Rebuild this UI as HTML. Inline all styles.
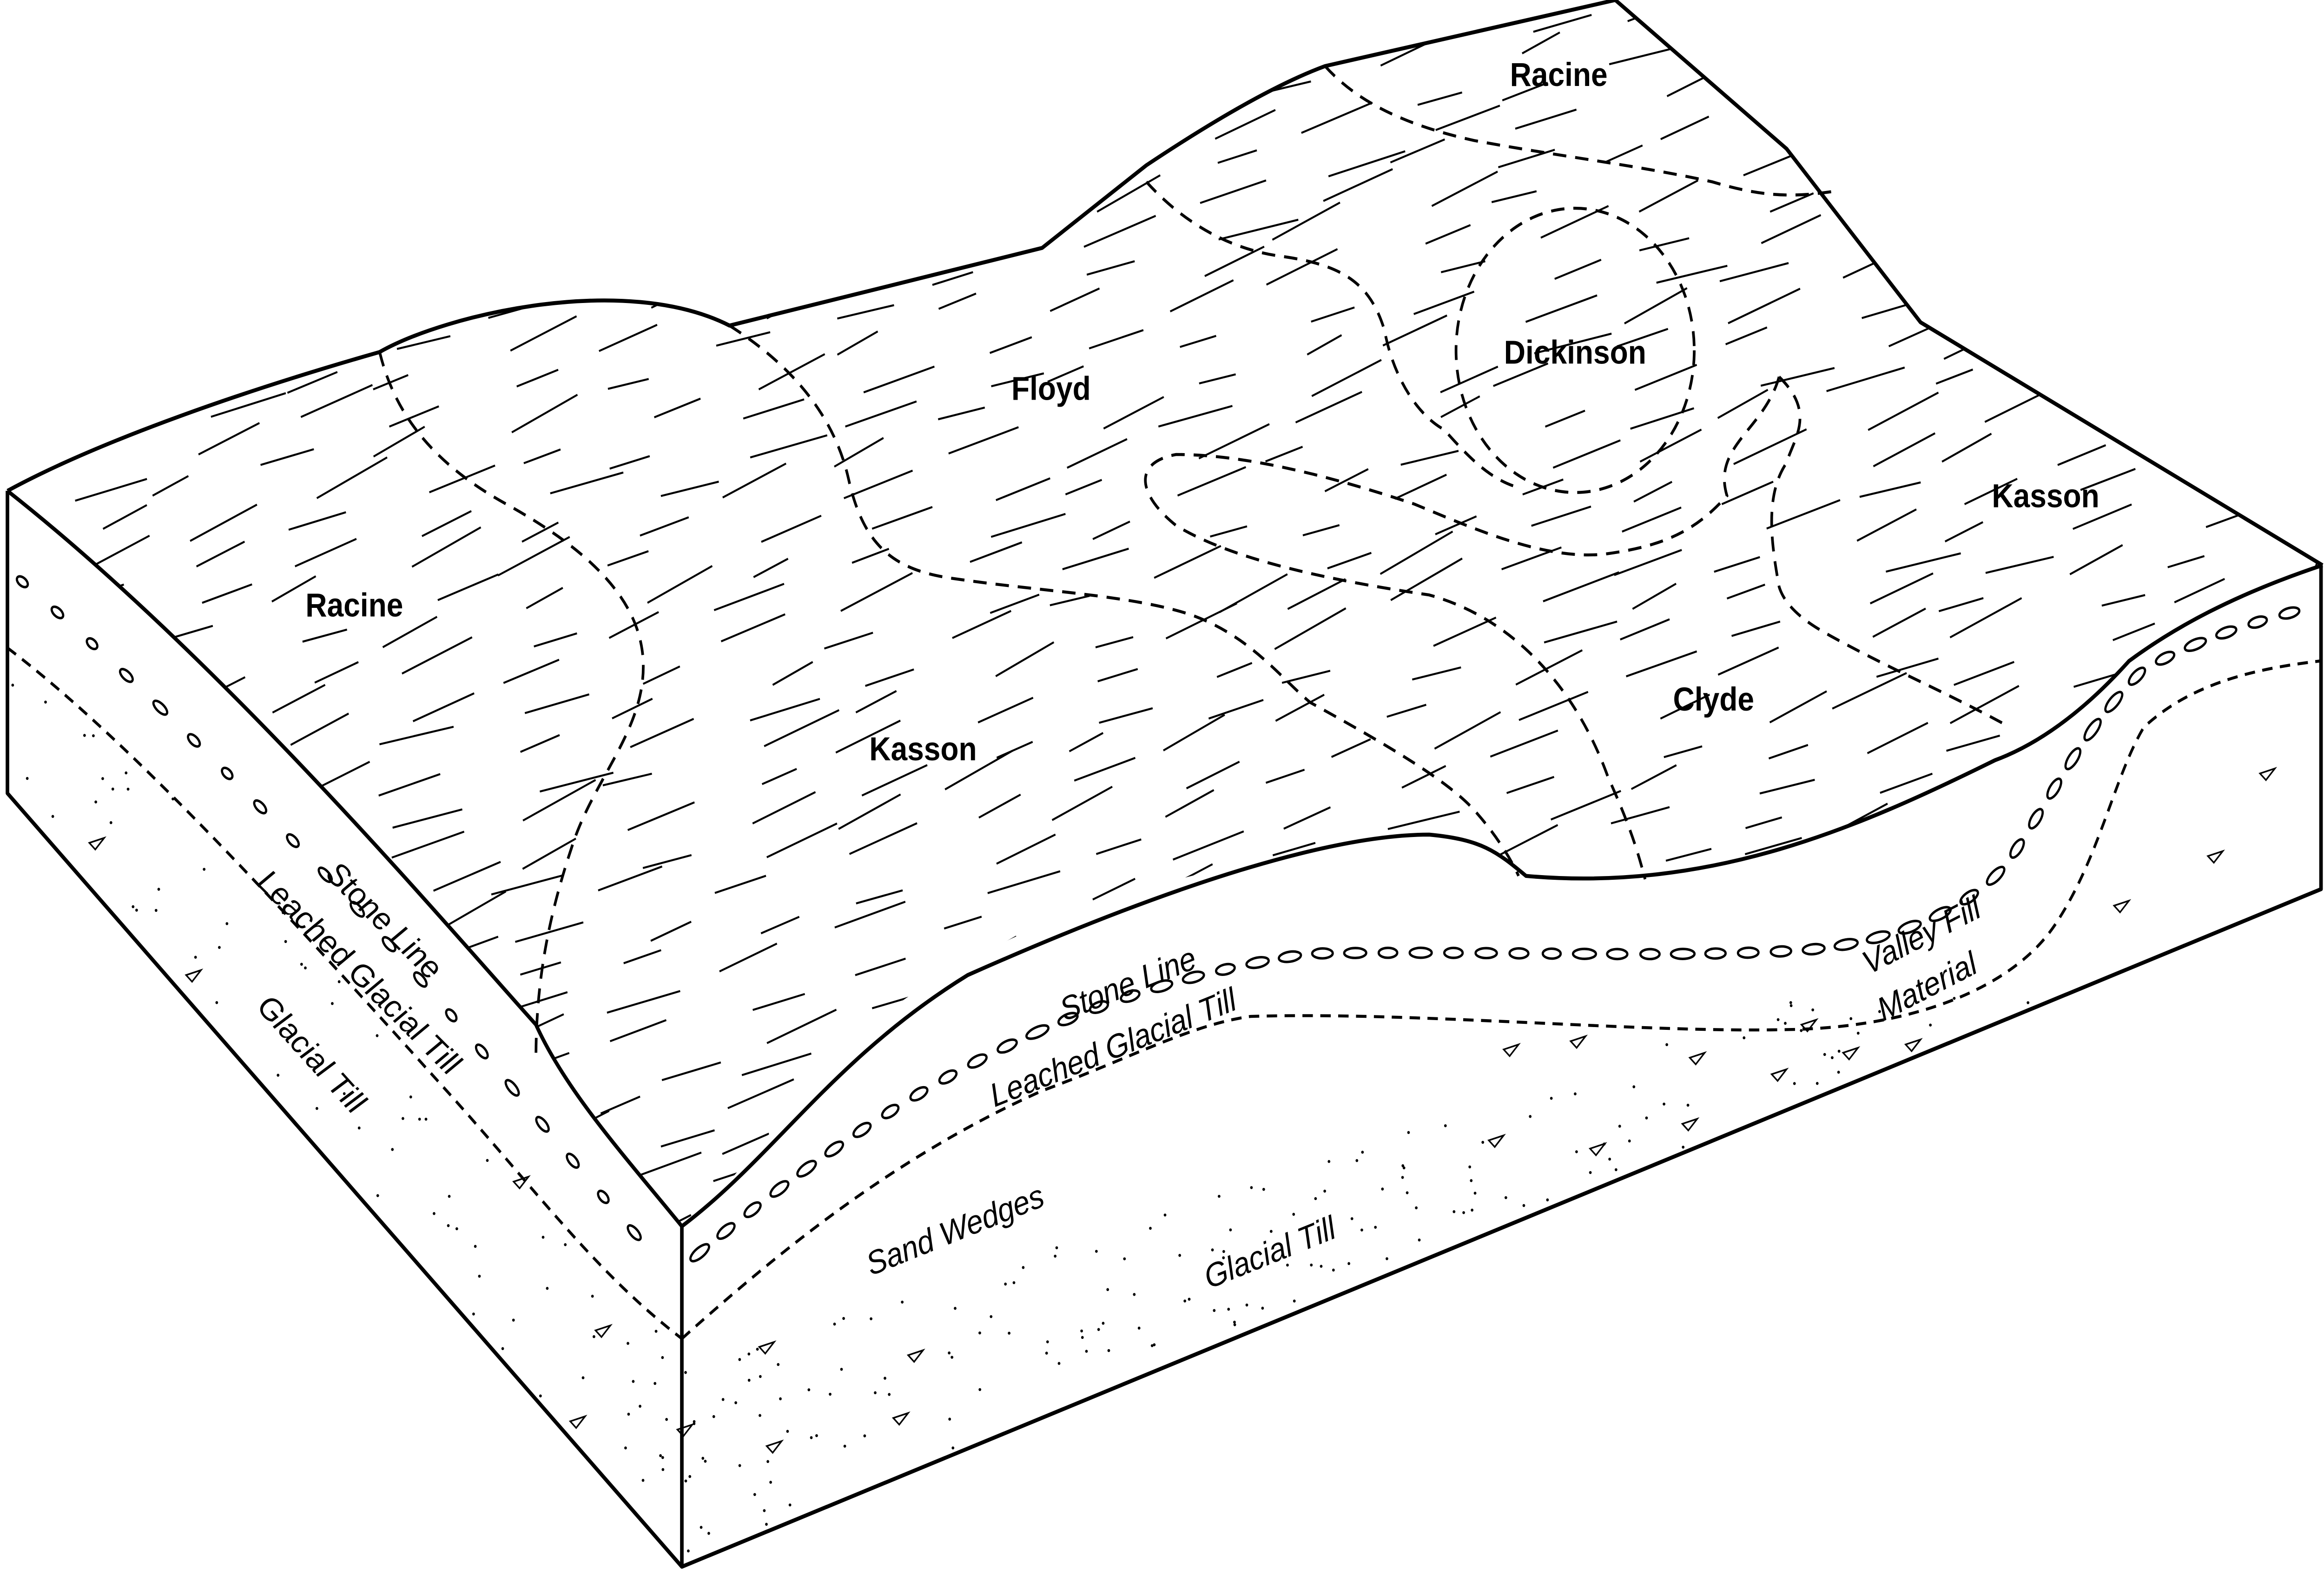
<!DOCTYPE html>
<html><head><meta charset="utf-8">
<meta name="viewport" content="width=5567">
<style>
html,body{margin:0;padding:0;background:#fff;width:100%;height:100%;overflow:hidden;}
svg{display:block;position:absolute;left:0;top:0;width:100vw;height:100vh;}
.lbl{font-family:"Liberation Sans",sans-serif;font-weight:bold;font-size:20px;fill:#000;}
.it{font-family:"Liberation Sans",sans-serif;font-style:italic;font-size:20px;fill:#000;}
</style></head>
<body>
<svg id="s" viewBox="0 0 1561 953" preserveAspectRatio="none" xmlns="http://www.w3.org/2000/svg">
<defs>
<clipPath id="top">
<path d="M5,297 C60,270 150,240 255,213 C300,190 420,165 490,197 L700,150 L770,100 C820,70 860,50 890,40 L1085,0 L1200,90 L1290,195 L1560,342 C1500,360 1460,380 1430,400 C1400,430 1370,450 1340,460 C1250,500 1150,540 1025,530 C1005,515 995,508 960,505 C800,520 650,560 560,640 C520,680 490,720 458,742 C420,700 380,660 360,620 C300,560 150,400 5,297 Z"/>
</clipPath>
</defs>
<g id="hatch" clip-path="url(#top)" stroke="#000" stroke-width="1.2" fill="none"></g>
<g id="dots" fill="#000"></g>
<g fill="none" stroke="#000" stroke-width="2.4" stroke-linejoin="round">
<path d="M5,297 C60,270 150,240 255,213 C300,190 420,165 490,197 L700,150 L770,100 C820,70 860,50 890,40 L1085,0 L1200,90 L1290,195 L1560,342"/>
<path d="M5,297 C150,400 300,560 360,620 C380,660 420,700 458,742"/>
<path d="M458,742 C520,700 560,640 650,590 C800,530 900,505 960,505 C995,508 1005,515 1025,530 C1150,540 1250,500 1340,460 C1370,450 1400,430 1430,400 C1460,380 1500,360 1560,342"/>
<path d="M5,297 L5,480 L458,948 L1559,538 L1559,342"/>
<path d="M458,742 L458,948"/>
</g>
<g fill="none" stroke="#000" stroke-width="1.8" stroke-dasharray="9,6">
<path d="M255,213 C265,250 290,280 340,305 C390,330 430,360 432,400 C434,440 400,470 385,510 C370,550 360,590 360,640"/>
<path d="M490,197 C530,220 560,250 570,290 C580,330 600,345 640,350 C700,358 760,360 800,372 C840,385 860,410 880,425 C920,445 970,470 990,490 C1005,505 1015,520 1020,530"/>
<path d="M770,110 C790,130 820,150 860,155 C900,160 920,170 930,200 C935,225 950,250 970,260 C985,275 1000,290 1020,295"/>
<ellipse cx="1058" cy="212" rx="80" ry="86"/>
<path d="M1195,228 C1220,250 1205,265 1200,280 C1185,300 1190,330 1195,355 C1200,370 1220,380 1230,385 C1270,405 1310,420 1350,440"/>
<path d="M1195,228 C1185,260 1150,270 1160,300 C1140,320 1120,330 1080,335 C1040,340 990,320 950,305 C900,290 840,275 790,275 C760,280 765,300 790,318 C830,340 900,352 960,360 C1020,375 1060,420 1080,470 C1095,500 1100,515 1105,532"/>
<path d="M890,40 C910,60 940,75 990,85 C1050,95 1100,100 1150,110 C1180,118 1200,120 1230,116"/>
<path d="M5,392 C90,450 200,560 300,660 C360,720 400,770 458,810" stroke-dasharray="7,5"/>
<path d="M458,810 C520,760 600,700 700,660 C760,640 800,620 840,615 C950,612 1100,625 1200,623 C1280,622 1350,600 1380,560 C1410,520 1420,470 1440,440 C1470,415 1510,405 1558,400" stroke-dasharray="7,5"/>
</g>
<path id="stoneF" fill="none" stroke="none" d="M470,758 C520,720 580,680 640,650 C700,620 780,590 880,577 C1000,575 1120,580 1210,575 C1280,570 1330,545 1350,520 C1380,480 1400,440 1440,405 C1480,385 1520,375 1550,368"/>
<path id="stoneL" fill="none" stroke="none" d="M15,352 C90,410 180,490 260,570 C330,640 380,700 440,760"/>
<g id="stones" fill="#fff" stroke="#000" stroke-width="1.5"></g>
<g>
<text class="lbl" x="1047" y="52" text-anchor="middle">Racine</text>
<text class="lbl" x="706" y="242" text-anchor="middle">Floyd</text>
<text class="lbl" x="1058" y="220" text-anchor="middle">Dickinson</text>
<text class="lbl" x="1374" y="307" text-anchor="middle">Kasson</text>
<text class="lbl" x="238" y="373" text-anchor="middle">Racine</text>
<text class="lbl" x="620" y="460" text-anchor="middle">Kasson</text>
<text class="lbl" x="1151" y="430" text-anchor="middle">Clyde</text>
<text class="it" transform="translate(218,530) rotate(42)">Stone Line</text>
<text class="it" transform="translate(172,535) rotate(42)">Leached Glacial Till</text>
<text class="it" transform="translate(172,610) rotate(45)">Glacial Till</text>
<text class="it" transform="translate(715,618) rotate(-20)">Stone Line</text>
<text class="it" transform="translate(668,670) rotate(-20)">Leached Glacial Till</text>
<text class="it" transform="translate(585,772) rotate(-20)">Sand Wedges</text>
<text class="it" transform="translate(812,780) rotate(-20)">Glacial Till</text>
<text class="it" transform="translate(1255,590) rotate(-25)">Valley Fill</text>
<text class="it" transform="translate(1265,618) rotate(-25)">Material</text>
</g>
</svg>
<script>
(function(){
var NS="http://www.w3.org/2000/svg";
var seed=7;function r(){seed=(seed*16807)%2147483647;return (seed-1)/2147483646;}
var h=document.getElementById('hatch');
for(var y=10;y<760;y+=22){for(var x=0;x<1560;x+=75){
 var xx=x+r()*45+(y%44?25:0), yy=y+r()*10;
 var len=25+r()*30, a=(-12-r()*16)*Math.PI/180;
 var l=document.createElementNS(NS,'line');
 l.setAttribute('x1',xx);l.setAttribute('y1',yy);
 l.setAttribute('x2',Math.min(1558,xx+len*Math.cos(a)));l.setAttribute('y2',yy+len*Math.sin(a));
 h.appendChild(l);}}
var st=document.getElementById('stones');
function along(id,step,rx,ry){var p=document.getElementById(id),L=p.getTotalLength();
 for(var s=0;s<L;s+=step){var pt=p.getPointAtLength(s),pt2=p.getPointAtLength(Math.min(L,s+1));
  var ang=Math.atan2(pt2.y-pt.y,pt2.x-pt.x)*180/Math.PI;
  var e=document.createElementNS(NS,'ellipse');e.setAttribute('cx',pt.x);e.setAttribute('cy',pt.y);
  e.setAttribute('rx',rx+r()*2);e.setAttribute('ry',ry);
  e.setAttribute('transform','rotate('+ang+' '+pt.x+' '+pt.y+')');st.appendChild(e);}}
along('stoneF',22,6,3);along('stoneL',30,4,2.5);
var d=document.getElementById('dots');
for(var i=0;i<900;i++){
 var x=460+r()*1090, y=600+r()*350;
 var yb=948-(x-458)*(410/1102);
 var yt=810-(x-458)*0.3;
 if(y>yb-3||y<yt+20) continue;
 var c=document.createElementNS(NS,'circle');c.setAttribute('cx',x);c.setAttribute('cy',y);c.setAttribute('r',0.9);d.appendChild(c);}
for(var i=0;i<300;i++){
 var x=8+r()*445, y=400+r()*540;
 var ytop=297+(x-5)*1.0+40, ybot=480+(x-5)*1.035;
 if(y<ytop+30||y>ybot-3) continue;
 var c=document.createElementNS(NS,'circle');c.setAttribute('cx',x);c.setAttribute('cy',y);c.setAttribute('r',0.9);d.appendChild(c);}
var tri=[[60,510],[125,590],[345,715],[400,805],[383,860],[455,865],[510,815],[600,858],[610,820],[515,875],[1010,635],[1055,630],[1135,640],[1210,620],[1238,637],[1280,632],[1000,690],[1068,695],[1130,680],[1190,650],[1420,548],[1483,518],[1518,468]];
tri.forEach(function(t){var p=document.createElementNS(NS,'path');
 p.setAttribute('d','M'+t[0]+','+t[1]+' l10,-3 l-6,7 z');p.setAttribute('fill','#fff');p.setAttribute('stroke','#000');p.setAttribute('stroke-width','1');d.appendChild(p);});
})();
</script>
</body></html>
